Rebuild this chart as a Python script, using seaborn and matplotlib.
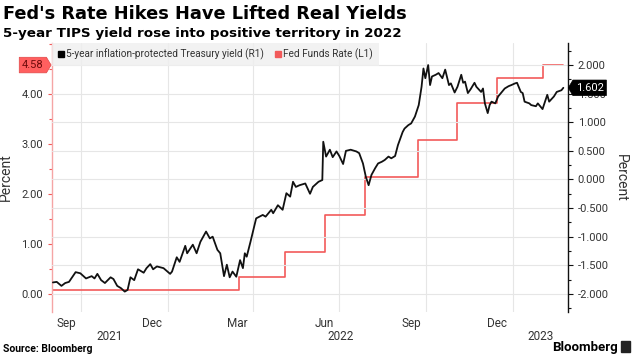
import pandas as pd
import seaborn as sns
import matplotlib.pyplot as plt
import matplotlib.transforms as mtransforms
from matplotlib.lines import Line2D
from matplotlib.patches import Rectangle
from matplotlib.path import Path
from matplotlib.ticker import MultipleLocator

# 5-year TIPS yield (right axis)
tips_dates = [
    '2021-09-01', '2021-09-05', '2021-09-10', '2021-09-14', '2021-09-18', '2021-09-25',
    '2021-09-30', '2021-10-06', '2021-10-12', '2021-10-15', '2021-10-18', '2021-10-22',
    '2021-10-26', '2021-11-01', '2021-11-04', '2021-11-08', '2021-11-12', '2021-11-16',
    '2021-11-19', '2021-11-22', '2021-11-26', '2021-11-30', '2021-12-06', '2021-12-09',
    '2021-12-13', '2021-12-16', '2021-12-20', '2021-12-27', '2022-01-03', '2022-01-05',
    '2022-01-10', '2022-01-13', '2022-01-19', '2022-01-21', '2022-01-27', '2022-01-31',
    '2022-02-04', '2022-02-10', '2022-02-14', '2022-02-17', '2022-02-22', '2022-02-25',
    '2022-03-01', '2022-03-04', '2022-03-07', '2022-03-10', '2022-03-14', '2022-03-18',
    '2022-03-21', '2022-03-23', '2022-03-25', '2022-03-29', '2022-04-04', '2022-04-11',
    '2022-04-14', '2022-04-20', '2022-04-22', '2022-04-27', '2022-05-02', '2022-05-06',
    '2022-05-10', '2022-05-13', '2022-05-16', '2022-05-20', '2022-05-26', '2022-05-31',
    '2022-06-03', '2022-06-09', '2022-06-13', '2022-06-14', '2022-06-17', '2022-06-21',
    '2022-06-24', '2022-06-28', '2022-07-01', '2022-07-05', '2022-07-08', '2022-07-13',
    '2022-07-19', '2022-07-22', '2022-07-26', '2022-07-29', '2022-08-01', '2022-08-04',
    '2022-08-08', '2022-08-11', '2022-08-15', '2022-08-18', '2022-08-22', '2022-08-25',
    '2022-08-29', '2022-09-01', '2022-09-06', '2022-09-08', '2022-09-12', '2022-09-15',
    '2022-09-19', '2022-09-23', '2022-09-26', '2022-09-28', '2022-09-30', '2022-10-03',
    '2022-10-05', '2022-10-07', '2022-10-11', '2022-10-14', '2022-10-18', '2022-10-21',
    '2022-10-25', '2022-10-27', '2022-10-31', '2022-11-03', '2022-11-07', '2022-11-09',
    '2022-11-11', '2022-11-14', '2022-11-17', '2022-11-21', '2022-11-23', '2022-11-28',
    '2022-11-30', '2022-12-02', '2022-12-05', '2022-12-07', '2022-12-09', '2022-12-13',
    '2022-12-16', '2022-12-20', '2022-12-23', '2022-12-27', '2022-12-30', '2023-01-03',
    '2023-01-05', '2023-01-09', '2023-01-11', '2023-01-13', '2023-01-18', '2023-01-20',
    '2023-01-25', '2023-01-27', '2023-02-01', '2023-02-06', '2023-02-08', '2023-02-13',
    '2023-02-16', '2023-02-21', '2023-02-23',
]
tips_yield = [
    -1.80, -1.79, -1.86, -1.81, -1.79, -1.62,
    -1.64, -1.73, -1.69, -1.73, -1.65, -1.76,
    -1.81, -1.71, -1.74, -1.86, -1.90, -1.96,
    -1.93, -1.71, -1.76, -1.57, -1.63, -1.55,
    -1.48, -1.57, -1.52, -1.55, -1.65, -1.61,
    -1.36, -1.44, -1.16, -1.29, -1.14, -1.29,
    -1.09, -0.91, -1.03, -1.00, -1.23, -1.29,
    -1.69, -1.49, -1.71, -1.61, -1.70, -1.41,
    -1.55, -1.29, -1.35, -1.09, -0.68, -0.62,
    -0.65, -0.53, -0.59, -0.45, -0.53, -0.24,
    -0.30, -0.04, -0.13, -0.10, -0.07, -0.25,
    -0.13, -0.04, -0.01, 0.66, 0.40, 0.52,
    0.39, 0.49, 0.41, 0.27, 0.50, 0.52,
    0.49, 0.46, 0.28, 0.05, -0.10, 0.08,
    0.20, 0.28, 0.31, 0.34, 0.40, 0.37,
    0.41, 0.60, 0.83, 0.89, 0.95, 0.98,
    1.10, 1.30, 1.62, 1.94, 1.77, 2.00,
    1.65, 1.80, 1.83, 1.86, 1.77, 1.92,
    1.65, 1.68, 1.52, 1.62, 1.83, 1.69,
    1.71, 1.51, 1.58, 1.69, 1.62, 1.53,
    1.59, 1.33, 1.16, 1.30, 1.36, 1.33,
    1.45, 1.53, 1.59, 1.63, 1.65, 1.68,
    1.69, 1.53, 1.51, 1.36, 1.33, 1.30,
    1.28, 1.33, 1.23, 1.48, 1.36, 1.45,
    1.53, 1.56, 1.602,
]

# Fed funds effective rate (left axis), step changes
ffr_dates = ['2021-09-01', '2022-03-17', '2022-05-05', '2022-06-16', '2022-07-28',
             '2022-09-22', '2022-11-03', '2022-12-15', '2023-02-02', '2023-02-23']
ffr_rate = [0.08, 0.33, 0.83, 1.58, 2.33, 3.08, 3.83, 4.33, 4.58, 4.58]

month_ticks = ['2021-09-15', '2021-12-15', '2022-03-15', '2022-06-15', '2022-09-15', '2022-12-15']
month_labels = ['Sep', 'Dec', 'Mar', 'Jun', 'Sep', 'Dec']
quarter_lines = ['2021-10-01', '2022-01-01', '2022-04-01', '2022-07-01', '2022-10-01', '2023-01-01']
year_labels = ['2021', '2022', '2023']

tips = pd.DataFrame({'date': pd.to_datetime(tips_dates), 'yield': tips_yield})
ffr = pd.DataFrame({'date': pd.to_datetime(ffr_dates), 'rate': ffr_rate})

RED = '#f25a5a'
TXT = '#333333'


def tag_box(pointing):
    # pentagon-shaped value tag, like Bloomberg's last-value labels
    def style(x0, y0, width, height, mutation_size):
        pad = 0.25 * mutation_size
        x0, y0 = x0 - pad, y0 - pad
        x1, y1 = x0 + width + 2 * pad, y0 + height + 2 * pad
        ym = (y0 + y1) / 2
        tip = (y1 - y0) * 0.3
        if pointing == 'right':
            verts = [(x0, y0), (x1, y0), (x1 + tip, ym), (x1, y1), (x0, y1), (x0, y0)]
        else:
            verts = [(x0, y0), (x1, y0), (x1, y1), (x0, y1), (x0 - tip, ym), (x0, y0)]
        return Path(verts, closed=True)
    return style


sns.set_style('white')
plt.rcParams['font.family'] = ['Roboto', 'DejaVu Sans']

fig = plt.figure(figsize=(6.34, 3.56), dpi=100)
ax = fig.add_axes([0.082, 0.124, 0.814, 0.755])
ax2 = ax.twinx()

sns.lineplot(data=ffr, x='date', y='rate', ax=ax, color=RED, lw=1.2, drawstyle='steps-post')
sns.lineplot(data=tips, x='date', y='yield', ax=ax2, color='#111111', lw=1.3)

xmin, xmax = pd.Timestamp('2021-08-31'), pd.Timestamp('2023-02-28')
ax.set_xlim(xmin, xmax)
ax.set_ylim(-0.36, 5.02)
ax2.set_ylim(-2.314, 2.384)

# x axis: quarter gridlines, month labels mid-month, years below
ax.set_xticks(pd.to_datetime(quarter_lines), labels=[''] * len(quarter_lines))
ax.set_xticks(pd.to_datetime(month_ticks), labels=month_labels, minor=True)
ax.tick_params(axis='x', which='both', length=0, labelsize=8.5, labelcolor=TXT, pad=4)
ax.grid(axis='x', color='#e6e6e6', lw=0.8)
ax.grid(axis='y', visible=False)
ax.set_xlabel('')

trans = mtransforms.blended_transform_factory(ax.transData, ax.transAxes)
for yr in year_labels:
    lo = max(pd.Timestamp(f'{yr}-01-01'), xmin)
    hi = min(pd.Timestamp(f'{yr}-12-31'), xmax)
    ax.text(lo + (hi - lo) / 2, -0.066, yr, transform=trans, ha='center', va='top',
            fontsize=8.5, color=TXT)

# left axis (fed funds)
ax.set_yticks([0, 1, 2, 3, 4], labels=[f'{v:.2f}' for v in [0, 1, 2, 3, 4]])
ax.yaxis.set_minor_locator(MultipleLocator(0.5))
ax.tick_params(axis='y', which='both', colors=RED, labelcolor=TXT, labelsize=8, width=0.8)
ax.tick_params(axis='y', which='major', length=3)
ax.tick_params(axis='y', which='minor', length=2)
ax.set_ylabel('Percent', fontsize=10, color=TXT, labelpad=6)
for s in ['top', 'right', 'bottom']:
    ax.spines[s].set_visible(False)
ax.spines['left'].set_color('#f5a5a5')
ax.spines['left'].set_linewidth(1)

# right axis (TIPS)
r_ticks = [-2.0, -1.5, -1.0, -0.5, 0.0, 0.5, 1.0, 1.5, 2.0]
ax2.set_yticks(r_ticks, labels=[f'{v:.3f}' for v in r_ticks])
ax2.yaxis.set_minor_locator(MultipleLocator(0.25))
ax2.tick_params(axis='y', which='both', colors='#111111', labelcolor=TXT, labelsize=8, width=0.8)
ax2.tick_params(axis='y', which='major', length=3.5)
ax2.tick_params(axis='y', which='minor', length=2)
ax2.grid(axis='y', color='#e6e6e6', lw=0.8)
ax2.set_axisbelow(True)
ax2.set_ylabel('Percent', fontsize=10, color=TXT, rotation=270, labelpad=14)
for s in ['top', 'left', 'bottom']:
    ax2.spines[s].set_visible(False)
ax2.spines['right'].set_color('#111111')
ax2.spines['right'].set_linewidth(1)

# last-value tags
ax.annotate(f'{ffr_rate[-1]:.2f}', xy=(0, ffr_rate[-1]), xycoords=('axes fraction', 'data'),
            xytext=(-6, 0), textcoords='offset points', ha='right', va='center',
            fontsize=8, color='#6e0b0b', zorder=10,
            bbox=dict(boxstyle=tag_box('right'), fc='#ff5f5f', ec='#e04848', lw=0.5))
ax2.annotate(f'{tips_yield[-1]:.3f}', xy=(1, tips_yield[-1]), xycoords=('axes fraction', 'data'),
             xytext=(5.5, 0), textcoords='offset points', ha='left', va='center',
             fontsize=8, color='white', zorder=10,
             bbox=dict(boxstyle=tag_box('left'), fc='black', ec='black', lw=0.5))

# legend
handles = [Line2D([], [], marker='s', ls='', color='black', ms=4.5),
           Line2D([], [], marker='s', ls='', color=RED, ms=4.5)]
leg = ax2.legend(handles, ['5-year inflation-protected Treasury yield (R1)', 'Fed Funds Rate (L1)'],
                 loc='upper left', bbox_to_anchor=(0.0, 1.0), ncol=2, frameon=True,
                 facecolor='#efefef', edgecolor='none', fancybox=False, fontsize=7.2,
                 handletextpad=0.1, handlelength=0.8, columnspacing=1.0, borderpad=0.55,
                 borderaxespad=0)
for t in leg.get_texts():
    t.set_color(TXT)

# titles and footer
fig.text(0.005, 1 - 19 / 356, "Fed's Rate Hikes Have Lifted Real Yields", fontsize=12.8,
         family=['DejaVu Sans'], weight='bold', color='black', va='baseline')
fig.text(0.005, 1 - 37 / 356, '5-year TIPS yield rose into positive territory in 2022',
         fontsize=9.7, family=['DejaVu Sans'], weight='bold', color='black', va='baseline')
fig.text(0.005, 1 - 352 / 356, 'Source: Bloomberg', fontsize=7.5, weight='bold',
         color='black', va='baseline')
fig.text(0.975, 1 - 351 / 356, 'Bloomberg', fontsize=9.5, weight='bold', color='black',
         va='baseline', ha='right')
fig.patches.append(Rectangle((0.980, 1 - 352 / 356), 0.013, 0.032, transform=fig.transFigure,
                             color='#222222'))

plt.savefig('out.png', dpi=100)
